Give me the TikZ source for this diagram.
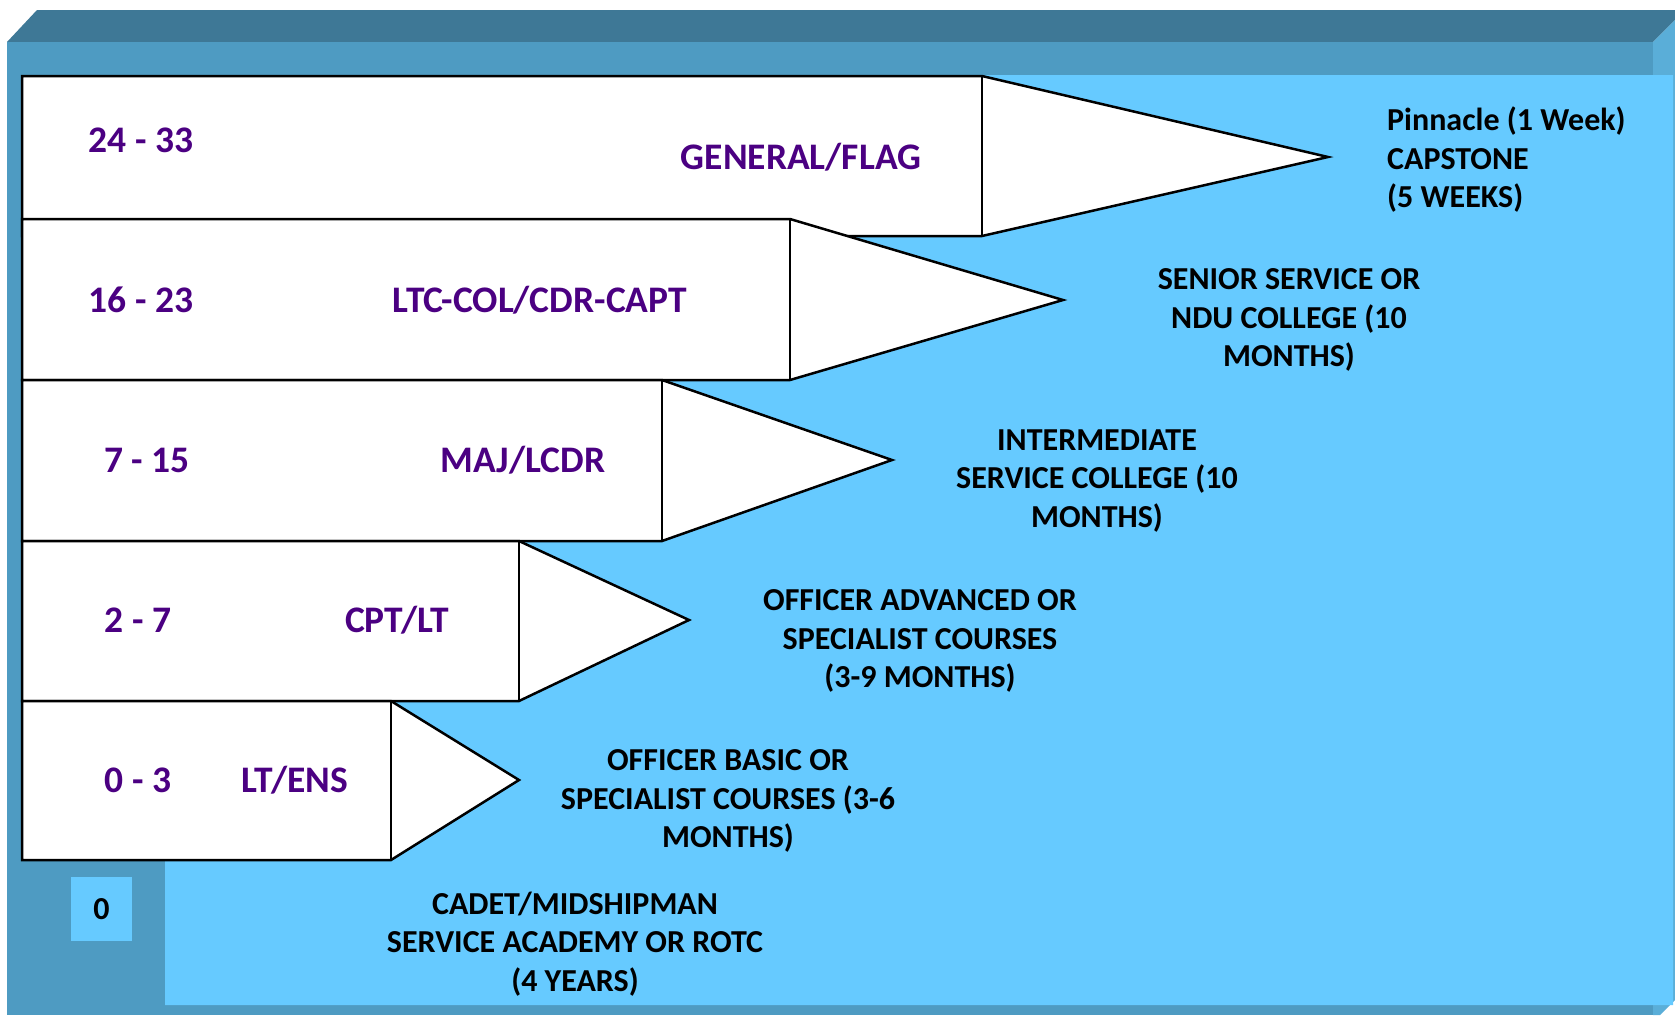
\documentclass[tikz,border=0pt]{standalone}
\usepackage{fontspec}
\setmainfont{Carlito}
\definecolor{panel}{HTML}{66CAFF}
\definecolor{frontface}{HTML}{4E9BC2}
\definecolor{topface}{HTML}{3E7896}
\definecolor{sideface}{HTML}{5AAED8}
\definecolor{rank}{HTML}{4B0082}
\begin{document}
\begin{tikzpicture}[x=1pt,y=-1pt,
  stagebox/.style={draw=black,fill=white,line width=2.5pt,line join=miter},
  ranktext/.style={text=rank,font=\bfseries\fontsize{37.5}{45}\selectfont,inner sep=0pt},
  coursetext/.style={text=black,font=\bfseries\fontsize{32}{38.5}\selectfont,inner sep=0pt,align=center}]
\useasboundingbox (0,0) rectangle (1675,1015);
\fill[white] (0,0) rectangle (1675,1015);
% 3D frame
\fill[topface] (7,42) -- (37,10) -- (1675,10) -- (1675,20) -- (1653,42) -- cycle;
\fill[sideface] (1653,42) -- (1675,20) -- (1675,1000) -- (1660,1015) -- (1653,1015) -- cycle;
\fill[frontface] (7,42) rectangle (1653,1015);
\fill[panel] (22,75) -- (1673,75) -- (1673,1005) -- (165,1005) -- (165,860) -- (22,860) -- cycle;
% stages (upper first, lower drawn on top)
\draw[stagebox] (22,76) -- (982,76) -- (1328,157) -- (982,236) -- (22,236) -- cycle;
\draw[line width=2.5pt] (982,76) -- (982,236);
\draw[stagebox] (22,219) -- (790,219) -- (1063,300) -- (790,380) -- (22,380) -- cycle;
\draw[line width=2.5pt] (790,219) -- (790,380);
\draw[stagebox] (22,380) -- (662,380) -- (892,460) -- (662,541) -- (22,541) -- cycle;
\draw[line width=2.5pt] (662,380) -- (662,541);
\draw[stagebox] (22,541) -- (519,541) -- (689,620) -- (519,701) -- (22,701) -- cycle;
\draw[line width=2.5pt] (519,541) -- (519,701);
\draw[stagebox] (22,701) -- (391,701) -- (519,780) -- (391,860) -- (22,860) -- cycle;
\draw[line width=2.5pt] (391,701) -- (391,860);
% year ranges and ranks
\node[ranktext] (y1) at (141,140) {24 - 33};
\node[ranktext] (r1) at (801,157) {GENERAL/FLAG};
\node[ranktext] (y2) at (141,300) {16 - 23};
\node[ranktext] (r2) at (540,300) {LTC-COL/CDR-CAPT};
\node[ranktext] (y3) at (147,460) {7 - 15};
\node[ranktext] (r3) at (523,460) {MAJ/LCDR};
\node[ranktext] (y4) at (138,620) {2 - 7};
\node[ranktext] (r4) at (397,620) {CPT/LT};
\node[ranktext] (y5) at (138,780) {0 - 3};
\node[ranktext] (r5) at (295,780) {LT/ENS};
% courses
\node[coursetext,align=left,anchor=west] (c1) at (1387,160) {Pinnacle (1 Week)\\CAPSTONE\\(5 WEEKS)};
\node[coursetext] (c2) at (1289,320) {SENIOR SERVICE OR\\NDU COLLEGE (10\\MONTHS)};
\node[coursetext] (c3) at (1097,481) {INTERMEDIATE\\SERVICE COLLEGE (10\\MONTHS)};
\node[coursetext] (c4) at (920,641) {OFFICER ADVANCED OR\\SPECIALIST COURSES\\(3-9 MONTHS)};
\node[coursetext] (c5) at (728,801) {OFFICER BASIC OR\\SPECIALIST COURSES (3-6\\MONTHS)};
\node[coursetext] (c6) at (575,944) {CADET/MIDSHIPMAN\\SERVICE ACADEMY OR ROTC\\(4 YEARS)};
% zero marker
\node[fill=panel,minimum width=61pt,minimum height=64pt,inner sep=0pt,text=black,font=\bfseries\fontsize{32}{38.5}\selectfont] (zero) at (101.5,909) {0};
\end{tikzpicture}
\end{document}
